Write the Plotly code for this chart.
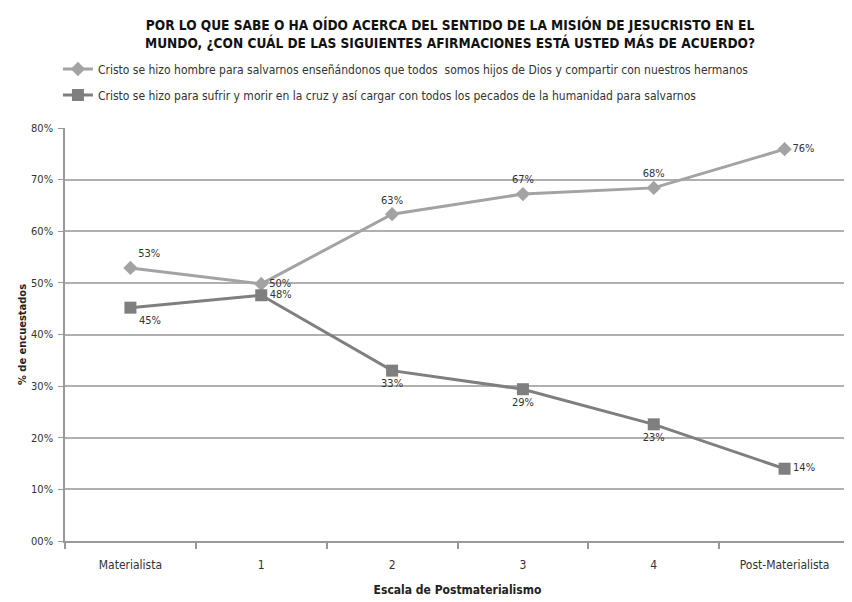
import plotly.graph_objects as go

categories = ["Materialista", "1", "2", "3", "4", "Post-Materialista"]
serie_hombre = [52.9, 49.8, 63.3, 67.2, 68.4, 75.9]
serie_cruz = [45.2, 47.6, 33.0, 29.4, 22.6, 14.0]
name_hombre = "Cristo se hizo hombre para salvarnos enseñándonos que todos  somos hijos de Dios y compartir con nuestros hermanos"
name_cruz = "Cristo se hizo para sufrir y morir en la cruz y así cargar con todos los pecados de la humanidad para salvarnos"
y_ticks = [0, 10, 20, 30, 40, 50, 60, 70, 80]
y_ticklabels = ["00%", "10%", "20%", "30%", "40%", "50%", "60%", "70%", "80%"]
title_text = ("POR LO QUE SABE O HA OÍDO ACERCA DEL SENTIDO DE LA MISIÓN DE JESUCRISTO EN EL<br>"
              "MUNDO, ¿CON CUÁL DE LAS SIGUIENTES AFIRMACIONES ESTÁ USTED MÁS DE ACUERDO?")

FONT = "DejaVu Sans Condensed, Liberation Sans Narrow, sans-serif"
C1 = "#a3a3a3"
C2 = "#7f7f7f"

fig = go.Figure()
fig.add_trace(go.Scatter(
    x=categories, y=serie_hombre, name=name_hombre, legendgroup="a",
    mode="lines+markers+text",
    line=dict(color=C1, width=3),
    marker=dict(symbol="diamond", size=11, color=C1),
    text=[f"{v:.0f}%" for v in serie_hombre],
    textposition=["top right", "middle right", "top center", "top center", "top center", "middle right"],
    textfont=dict(family=FONT, size=11, color="#333333"),
))
fig.add_trace(go.Scatter(
    x=categories, y=serie_cruz, name=name_cruz, legendgroup="b",
    mode="lines+markers+text",
    line=dict(color=C2, width=3),
    marker=dict(symbol="square", size=12, color=C2),
    text=[f"{v:.0f}%" for v in serie_cruz],
    textposition=["bottom right", "middle right", "bottom center", "bottom center", "bottom center", "middle right"],
    textfont=dict(family=FONT, size=11, color="#333333"),
))

fig.update_layout(
    width=844, height=594,
    margin=dict(l=57, r=2, t=120, b=61),
    paper_bgcolor="white", plot_bgcolor="white",
    font=dict(family=FONT, color="#222222"),
    annotations=[dict(
        text="<b>" + title_text + "</b>",
        xref="paper", yref="paper", x=0.49, y=1.228,
        xanchor="center", yanchor="middle", showarrow=False,
        font=dict(family=FONT, size=13.6, color="#111111"),
    )],
    showlegend=True,
    legend=dict(
        x=-0.009, y=1.178, xanchor="left", yanchor="top",
        font=dict(family=FONT, size=12, color="#333333"),
        tracegroupgap=7, itemwidth=30, bgcolor="rgba(0,0,0,0)",
    ),
    xaxis=dict(
        type="category", range=[-0.5, 5.5], tickson="boundaries",
        ticks="outside", ticklen=6, tickcolor="#999999", tickwidth=1.5,
        ticklabelstandoff=12,
        showline=True, linecolor="#999999", linewidth=1.5,
        showgrid=False,
        tickfont=dict(family=FONT, size=12, color="#333333"),
        title=dict(text="<b>Escala de Postmaterialismo</b>", font=dict(family=FONT, size=12, color="#222222"), standoff=14),
    ),
    yaxis=dict(
        range=[0, 80], tickvals=y_ticks, ticktext=y_ticklabels,
        ticks="outside", ticklen=5, tickcolor="#999999",
        ticklabelstandoff=3,
        showline=True, linecolor="#999999", linewidth=1.5,
        showgrid=True, gridcolor="#b0b0b0", gridwidth=2,
        zeroline=False,
        tickfont=dict(family=FONT, size=11, color="#333333"),
        title=dict(text="<b>% de encuestados</b>", font=dict(family=FONT, size=11, color="#222222"), standoff=2),
    ),
)

fig.write_html("out.html")
